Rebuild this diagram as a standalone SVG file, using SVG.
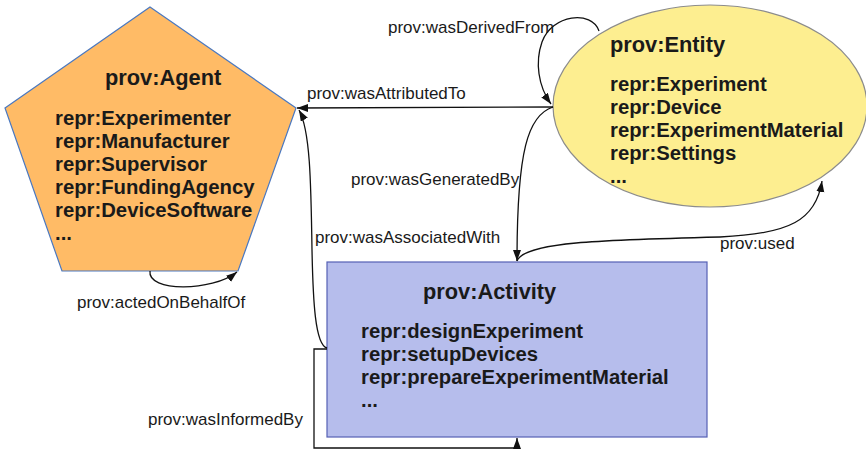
<svg xmlns="http://www.w3.org/2000/svg" width="866" height="450" viewBox="0 0 866 450">
<style>
.title{font-family:"Liberation Sans",Arial,sans-serif;font-weight:bold;font-size:21.8px;fill:#1a1a1a}
.item{font-family:"Liberation Sans",Arial,sans-serif;font-weight:bold;font-size:20.3px;fill:#1a1a1a}
.lbl{font-family:"Liberation Sans",Arial,sans-serif;font-size:17px;fill:#1a1a1a}
.edge{fill:none;stroke:#111;stroke-width:1.3}
</style>
<defs>
<marker id="arr" markerUnits="userSpaceOnUse" markerWidth="12" markerHeight="9" refX="11" refY="4" orient="auto">
<path d="M0,0 L11,4 L0,8 z" fill="#111"/>
</marker>
</defs>
<rect width="866" height="450" fill="#fff"/>
<g id="agent">
<polygon points="150,7 296,108 238,271 62,271 5,108" fill="#ffbb66" stroke="#4a78c0" stroke-width="1.2"/>
<text class="title" x="105" y="85">prov:Agent</text>
<text class="item" x="55" y="125">repr:Experimenter</text>
<text class="item" x="55" y="148">repr:Manufacturer</text>
<text class="item" x="55" y="171">repr:Supervisor</text>
<text class="item" x="55" y="194">repr:FundingAgency</text>
<text class="item" x="55" y="217">repr:DeviceSoftware</text>
<text class="item" x="55" y="240">...</text>
</g>
<g id="entity">
<ellipse cx="710" cy="106" rx="157" ry="101" fill="#fdee90" stroke="#8c8c8c" stroke-width="1.2"/>
<text class="title" x="610" y="52">prov:Entity</text>
<text class="item" x="610" y="91">repr:Experiment</text>
<text class="item" x="610" y="114">repr:Device</text>
<text class="item" x="610" y="137">repr:ExperimentMaterial</text>
<text class="item" x="610" y="160">repr:Settings</text>
<text class="item" x="610" y="183">...</text>
</g>
<g id="activity">
<rect x="327" y="262" width="380" height="175" fill="#b6bdec" stroke="#5560b5" stroke-width="1.2"/>
<text class="title" x="423" y="299">prov:Activity</text>
<text class="item" x="361" y="338">repr:designExperiment</text>
<text class="item" x="361" y="361">repr:setupDevices</text>
<text class="item" x="361" y="384">repr:prepareExperimentMaterial</text>
<text class="item" x="361" y="407">...</text>
</g>
<g id="connectors">
<path class="edge" d="M553,107 C480,107 400,108 297,108" marker-end="url(#arr)"/>
<path class="edge" d="M599,31 C592,10 552,14 542,42 C535,62 538,86 551,104" marker-end="url(#arr)"/>
<path class="edge" d="M553,107 C528,115 517,150 517,261" marker-end="url(#arr)"/>
<path class="edge" d="M517,261 C524,242 600,240 720,237 C790,234 816,220 822,181" marker-end="url(#arr)"/>
<path class="edge" d="M327,348 C315,345 313,300 312,250 C311,180 310,130 299,110" marker-end="url(#arr)"/>
<path class="edge" d="M327,349 L314,349 L314,448 L517,448 L517,438" marker-end="url(#arr)"/>
<path class="edge" d="M150,271 C147,292 212,292 237,272" marker-end="url(#arr)"/>
<text class="lbl" x="388" y="33">prov:wasDerivedFrom</text>
<text class="lbl" x="307" y="99">prov:wasAttributedTo</text>
<text class="lbl" x="351" y="185">prov:wasGeneratedBy</text>
<text class="lbl" x="315" y="243">prov:wasAssociatedWith</text>
<text class="lbl" x="720" y="249">prov:used</text>
<text class="lbl" x="77" y="308">prov:actedOnBehalfOf</text>
<text class="lbl" x="148" y="425">prov:wasInformedBy</text>
</g>
</svg>
